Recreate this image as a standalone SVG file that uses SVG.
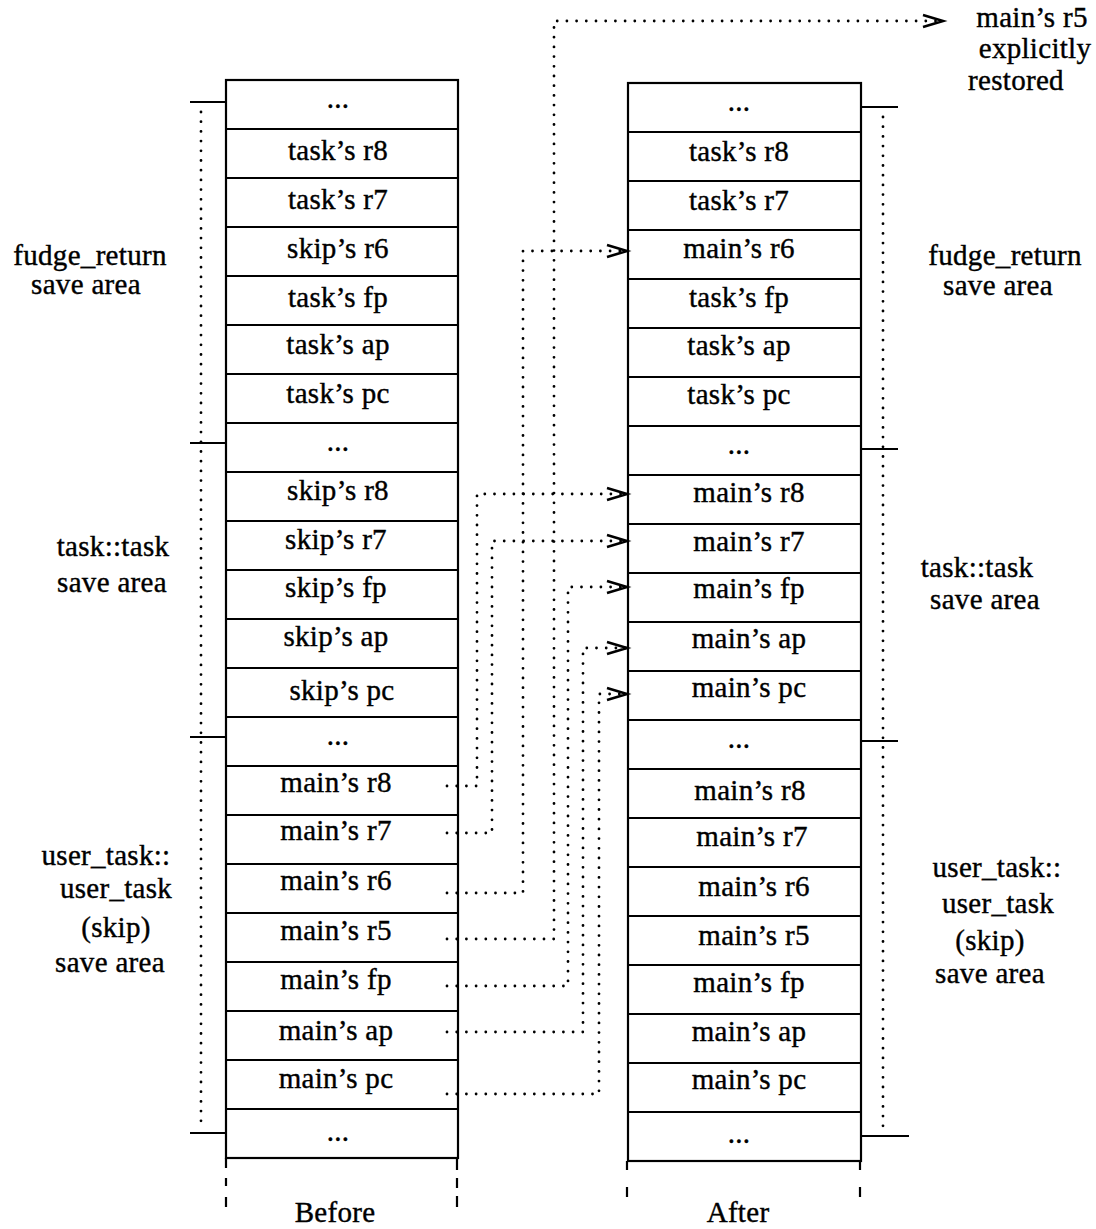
<svg xmlns="http://www.w3.org/2000/svg" width="1096" height="1229" viewBox="0 0 1096 1229">
<style>
text{font-family:"Liberation Serif","DejaVu Serif",serif;font-size:29px;fill:#000;text-anchor:middle;stroke:#000;stroke-width:0.4;letter-spacing:0.3px}
.box{fill:#fff;stroke:#000;stroke-width:2.2}
.ln{stroke:#000;stroke-width:2.2;fill:none}
.dot{stroke:#000;stroke-width:2.8;fill:none;stroke-dasharray:0 9.7;stroke-linecap:round}
</style>
<defs>
<marker id="ah" markerUnits="userSpaceOnUse" markerWidth="30" markerHeight="20" viewBox="-24 -10 30 20" refX="0" refY="0" orient="auto" overflow="visible">
<path d="M-20,-6 L0,0 L-20,6" fill="none" stroke="#000" stroke-width="2.6" stroke-dasharray="none" stroke-linejoin="miter"/>
</marker>
</defs>
<rect width="1096" height="1229" fill="#fff"/>

<g id="before">
<rect class="box" x="226" y="80" width="232" height="1078"/>
<path class="ln" d="M226,129H458M226,178H458M226,227H458M226,276H458M226,325H458M226,374H458M226,423H458M226,472H458M226,521H458M226,570H458M226,619H458M226,668H458M226,717H458M226,766H458M226,815H458M226,864H458M226,913H458M226,962H458M226,1011H458M226,1060H458M226,1109H458"/>
<text x="338" y="108">...</text>
<text x="338" y="160">task’s r8</text>
<text x="338" y="209">task’s r7</text>
<text x="338" y="258">skip’s r6</text>
<text x="338" y="307">task’s fp</text>
<text x="338" y="354">task’s ap</text>
<text x="338" y="403">task’s pc</text>
<text x="338" y="451">...</text>
<text x="338" y="500">skip’s r8</text>
<text x="336" y="549">skip’s r7</text>
<text x="336" y="597">skip’s fp</text>
<text x="336" y="646">skip’s ap</text>
<text x="342" y="700">skip’s pc</text>
<text x="338" y="745">...</text>
<text x="336" y="792">main’s r8</text>
<text x="336" y="840">main’s r7</text>
<text x="336" y="890">main’s r6</text>
<text x="336" y="940">main’s r5</text>
<text x="336" y="989">main’s fp</text>
<text x="336" y="1040">main’s ap</text>
<text x="336" y="1088">main’s pc</text>
<text x="338" y="1141">...</text>
</g>

<g id="after">
<rect class="box" x="628" y="83" width="233" height="1078"/>
<path class="ln" d="M628,132H861M628,181H861M628,230H861M628,279H861M628,328H861M628,377H861M628,426H861M628,475H861M628,524H861M628,573H861M628,622H861M628,671H861M628,720H861M628,769H861M628,818H861M628,867H861M628,916H861M628,965H861M628,1014H861M628,1063H861M628,1112H861"/>
<text x="739" y="111">...</text>
<text x="739" y="161">task’s r8</text>
<text x="739" y="210">task’s r7</text>
<text x="739" y="258">main’s r6</text>
<text x="739" y="307">task’s fp</text>
<text x="739" y="355">task’s ap</text>
<text x="739" y="404">task’s pc</text>
<text x="739" y="454">...</text>
<text x="749" y="502">main’s r8</text>
<text x="749" y="551">main’s r7</text>
<text x="749" y="598">main’s fp</text>
<text x="749" y="648">main’s ap</text>
<text x="749" y="697">main’s pc</text>
<text x="739" y="748">...</text>
<text x="750" y="800">main’s r8</text>
<text x="752" y="846">main’s r7</text>
<text x="754" y="896">main’s r6</text>
<text x="754" y="945">main’s r5</text>
<text x="749" y="992">main’s fp</text>
<text x="749" y="1041">main’s ap</text>
<text x="749" y="1089">main’s pc</text>
<text x="739" y="1143">...</text>
</g>

<g id="bottom-marks">
<path class="ln" d="M226,1158V1168M226,1178V1186M226,1197V1207M457,1158V1170M457,1178V1188M457,1196V1207M627,1161V1170M627,1187V1197M860,1161V1170M860,1187V1197"/>
<text x="335" y="1222">Before</text>
<text x="738" y="1222">After</text>
</g>

<g id="left-brackets">
<path class="ln" d="M190,102H227M190,443H227M190,737H227M190,1133H226"/>
<path class="dot" d="M201,112V1128"/>
<text x="90" y="265">fudge_return</text>
<text x="86" y="294">save area</text>
<text x="113" y="556">task::task</text>
<text x="112" y="592">save area</text>
<text x="106" y="865">user_task::</text>
<text x="116" y="898">user_task</text>
<text x="116" y="937">(skip)</text>
<text x="110" y="972">save area</text>
</g>

<g id="right-brackets">
<path class="ln" d="M861,107H898M861,449H898M861,741H898M861,1136H909"/>
<path class="dot" d="M883,117V1130"/>
<text x="1005" y="265">fudge_return</text>
<text x="998" y="295">save area</text>
<text x="977" y="577">task::task</text>
<text x="985" y="609">save area</text>
<text x="997" y="877">user_task::</text>
<text x="998" y="913">user_task</text>
<text x="990" y="950">(skip)</text>
<text x="990" y="983">save area</text>
</g>

<g id="note">
<text x="1032" y="27">main’s r5</text>
<text x="1035" y="58">explicitly</text>
<text x="1016" y="90">restored</text>
</g>

<g id="connectors">
<path class="dot" marker-end="url(#ah)" d="M447,786H477V494H627"/>
<path class="dot" marker-end="url(#ah)" d="M447,833H492V541H627"/>
<path class="dot" marker-end="url(#ah)" d="M447,893H523V251H627"/>
<path class="dot" marker-end="url(#ah)" d="M447,939H554V21H943"/>
<path class="dot" marker-end="url(#ah)" d="M447,986H568V587H627"/>
<path class="dot" marker-end="url(#ah)" d="M447,1032H583V648H627"/>
<path class="dot" marker-end="url(#ah)" d="M447,1094H599V694H627"/>
</g>
</svg>
